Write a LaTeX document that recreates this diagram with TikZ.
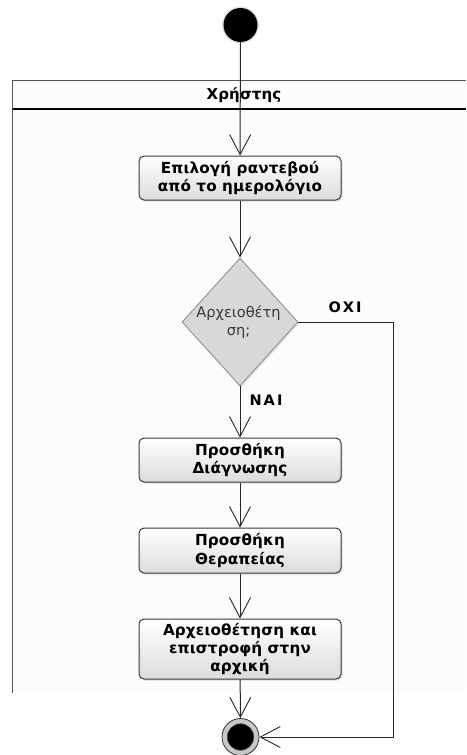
\documentclass[tikz,border=0pt]{standalone}
\usepackage{fontspec}
\setmainfont{DejaVu Sans}
\newfontfamily\boldwide[LetterSpace=1]{DejaVu Sans Bold}
\newfontfamily\boldguard[LetterSpace=14]{DejaVu Sans Bold}
\usetikzlibrary{arrows.meta,shapes.geometric,shadows}

\definecolor{laneline}{HTML}{555555}
\definecolor{boxline}{HTML}{3A3A3A}
\definecolor{boxbottom}{HTML}{DCDCDC}
\definecolor{decfill}{HTML}{D8D8D8}
\definecolor{decline}{HTML}{8A8A8A}

\begin{document}
\begin{tikzpicture}[x=1pt,y=-1pt,
  action/.style={draw=boxline, line width=1pt, rounded corners=5pt,
    top color=white, bottom color=boxbottom,
    minimum width=202pt, align=center, inner sep=2pt,
    font=\boldwide\fontsize{15.2}{18.3}\selectfont,
    drop shadow={shadow xshift=1.5pt, shadow yshift=-1.5pt, opacity=0.25}},
  decision/.style={diamond, draw=decline, line width=0.8pt, fill=decfill,
    minimum width=116pt, minimum height=128pt, inner sep=0pt,
    drop shadow={shadow xshift=1.5pt, shadow yshift=-1.5pt, opacity=0.2}},
  flow/.style={draw=black!85, line width=1pt,
    -{Straight Barb[length=20pt,width=21pt,line width=0.9pt]}},
  guard/.style={font=\boldguard\fontsize{14.5}{16}\selectfont},
  lane/.style={draw=laneline, line width=1.2pt}]

\useasboundingbox (0,0) rectangle (466,755);

% swimlane
\fill[black!1] (12.5,80.5) rectangle (466,693);
\draw[lane] (12.5,693) -- (12.5,80.5) -- (466,80.5);
\draw[black, line width=1.2pt] (12.5,109) -- (466,109);
\node[font=\boldwide\fontsize{15}{17}\selectfont] (lanehead) at (244,95) {Χρήστης};

% initial and final states
\node[circle, fill=black, minimum size=34pt, inner sep=0pt,
  drop shadow={shadow xshift=0pt, shadow yshift=0pt, opacity=0.25, shadow scale=1.08}] (start) at (240.5,25) {};
\node[circle, draw=black!80, line width=0.8pt, fill=black!22, minimum size=37pt, inner sep=0pt] (end) at (240.5,737) {};
\node[circle, draw=black!70, line width=0.6pt, fill=black, minimum size=26.5pt, inner sep=0pt] at (end) {};

% actions
\node[action, minimum height=44pt] (b1) at (240,178) {Επιλογή ραντεβού\\από το ημερολόγιο};
\node[decision] (dec) at (240,322) {};
\node[align=center, text=black!78, font=\fontsize{14.6}{18}\selectfont] (dectext) at (238.5,322) {Αρχειοθέτη\\ση;};
\node[action, minimum height=44pt] (b2) at (240,460) {Προσθήκη\\Διάγνωσης};
\node[action, minimum height=45pt] (b3) at (240,550.5) {Προσθήκη\\Θεραπείας};
\node[action, minimum height=60pt] (b4) at (240,649) {Αρχειοθέτηση και\\επιστροφή στην\\αρχική};

% guards
\node[guard] (no) at (345,307) {ΟΧΙ};
\node[guard] (yes) at (266,400) {ΝΑΙ};

% control flow
\coordinate (turn) at (393,322);
\draw[flow] (start) -- (b1);
\draw[flow] (b1) -- (dec);
\draw[flow] (dec) -- (b2);
\draw[flow] (b2) -- (b3);
\draw[flow] (b3) -- (b4);
\draw[flow] (b4) -- (end);
\draw[flow] (dec.east) -- (turn) |- (end.east);
\end{tikzpicture}
\end{document}
